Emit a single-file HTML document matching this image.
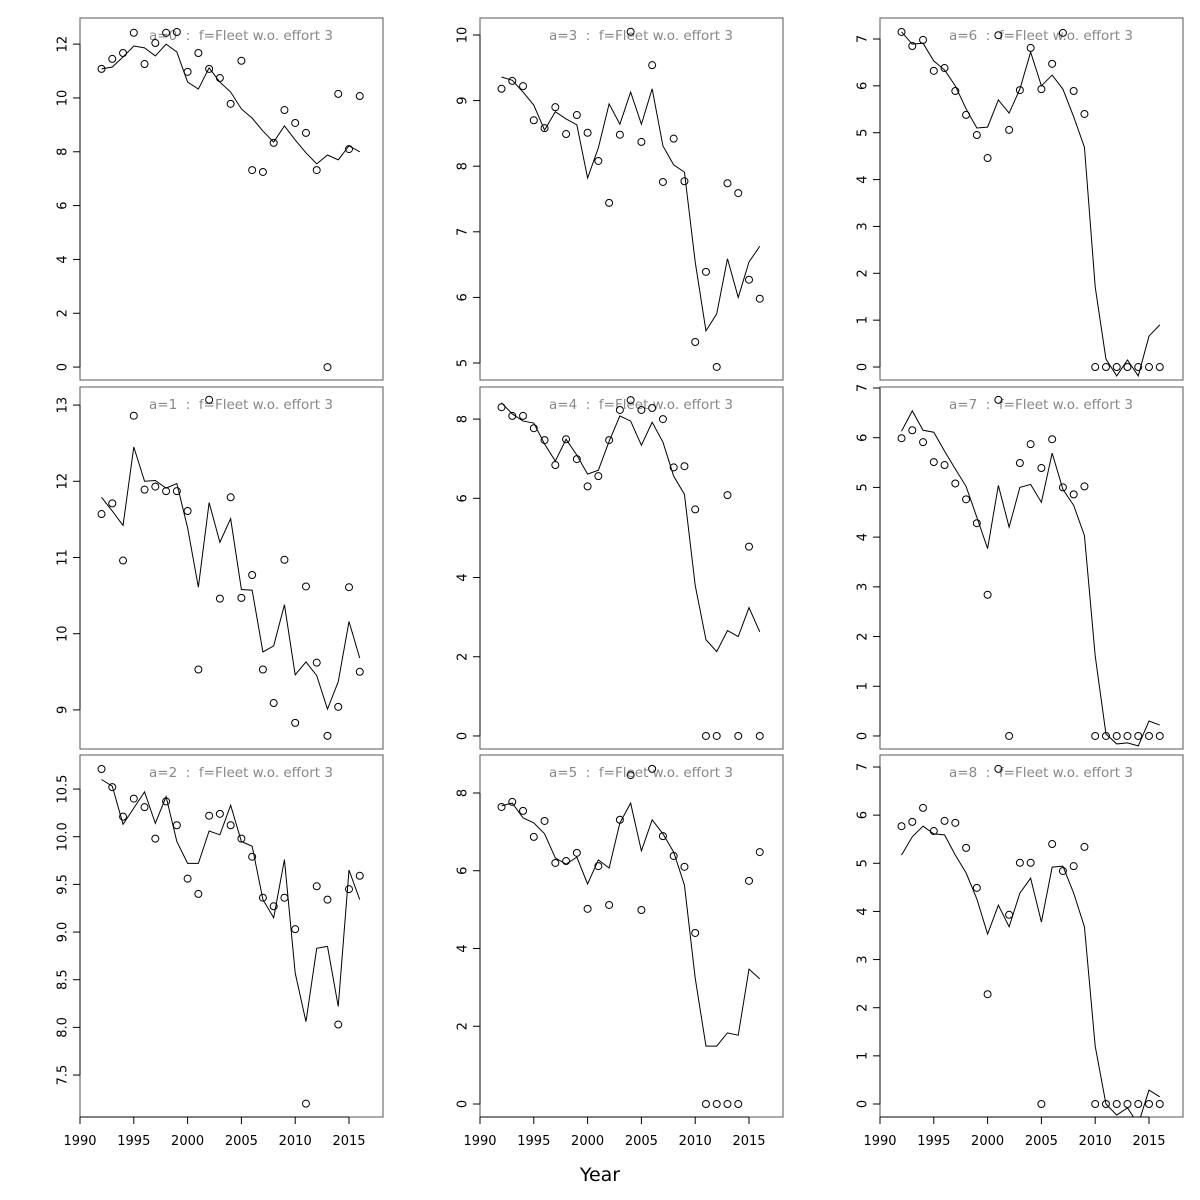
<!DOCTYPE html>
<html><head><meta charset="utf-8"><style>body{margin:0;background:#fff}svg{display:block}text{white-space:pre}</style></head>
<body>
<svg id="chart" width="1200" height="1200" xmlns="http://www.w3.org/2000/svg" font-family="DejaVu Sans, Liberation Sans, sans-serif"></svg>
<script>
const years = [1992,1993,1994,1995,1996,1997,1998,1999,2000,2001,2002,2003,2004,2005,2006,2007,2008,2009,2010,2011,2012,2013,2014,2015,2016];
const xTicks = [1990,1995,2000,2005,2010,2015];
const obsA0 = [11.08,11.45,11.67,12.42,11.26,12.04,12.42,12.45,10.97,11.67,11.08,10.74,9.78,11.38,7.32,7.25,8.33,9.55,9.07,8.7,7.32,0,10.15,8.1,10.07];
const fitA0 = [11.08,11.15,11.52,11.93,11.86,11.56,12.0,11.71,10.59,10.33,11.12,10.59,10.22,9.59,9.25,8.77,8.36,8.96,8.44,7.96,7.55,7.88,7.7,8.22,8.0];
const obsA1 = [11.57,11.71,10.96,12.86,11.89,11.93,11.87,11.87,11.61,9.53,13.07,10.46,11.79,10.47,10.77,9.53,9.09,10.97,8.83,10.62,9.62,8.66,9.04,10.61,9.5];
const fitA1 = [11.79,11.61,11.42,12.45,12.0,12.01,11.91,11.97,11.39,10.61,11.72,11.2,11.51,10.58,10.57,9.76,9.84,10.38,9.46,9.63,9.45,9.01,9.37,10.16,9.68];
const obsA2 = [10.71,10.52,10.21,10.4,10.31,9.98,10.37,10.12,9.56,9.4,10.22,10.24,10.12,9.98,9.79,9.36,9.27,9.36,9.03,7.2,9.48,9.34,8.03,9.45,9.59];
const fitA2 = [10.6,10.53,10.13,10.3,10.47,10.14,10.42,9.95,9.72,9.72,10.06,10.02,10.33,9.95,9.9,9.34,9.15,9.76,8.57,8.06,8.83,8.85,8.22,9.65,9.34];
const obsA3 = [9.18,9.3,9.22,8.7,8.58,8.9,8.49,8.78,8.51,8.08,7.44,8.48,10.05,8.37,9.54,7.76,8.42,7.77,5.32,6.39,4.94,7.74,7.59,6.27,5.98];
const fitA3 = [9.36,9.31,9.13,8.93,8.55,8.83,8.72,8.63,7.82,8.28,8.95,8.64,9.13,8.64,9.18,8.31,8.02,7.91,6.54,5.49,5.75,6.59,6.0,6.54,6.78];
const obsA4 = [8.3,8.08,8.08,7.77,7.47,6.84,7.49,6.99,6.3,6.56,7.47,8.23,8.48,8.23,8.28,8.0,6.78,6.81,5.72,0,0,6.08,0,4.78,0];
const fitA4 = [8.41,8.13,7.95,7.9,7.37,6.94,7.49,7.09,6.61,6.71,7.44,8.08,7.95,7.34,7.92,7.42,6.56,6.1,3.8,2.43,2.13,2.66,2.51,3.24,2.63];
const obsA5 = [7.64,7.77,7.54,6.87,7.28,6.2,6.25,6.46,5.02,6.12,5.12,7.31,8.46,4.99,8.62,6.89,6.38,6.1,4.4,0,0,0,0,5.74,6.48];
const fitA5 = [7.67,7.74,7.36,7.23,6.95,6.33,6.17,6.35,5.66,6.28,6.07,7.23,7.74,6.51,7.31,6.95,6.48,5.63,3.24,1.49,1.49,1.83,1.77,3.47,3.22];
const obsA6 = [7.15,6.85,6.98,6.32,6.38,5.89,5.38,4.95,4.46,7.08,5.06,5.91,6.81,5.93,6.47,7.13,5.89,5.4,0,0,0,0,0,0,0];
const fitA6 = [7.15,6.89,6.91,6.53,6.34,6.0,5.51,5.1,5.12,5.7,5.42,5.93,6.72,6.0,6.23,5.93,5.34,4.69,1.71,0.17,-0.19,0.15,-0.19,0.66,0.9];
const obsA7 = [5.99,6.15,5.91,5.51,5.45,5.08,4.76,4.28,2.84,6.76,0,5.49,5.87,5.39,5.97,5.0,4.86,5.02,0,0,0,0,0,0,0];
const fitA7 = [6.13,6.54,6.15,6.11,5.73,5.37,5.02,4.4,3.77,5.04,4.2,5.0,5.06,4.7,5.69,4.96,4.64,4.03,1.61,0.04,-0.16,-0.14,-0.2,0.3,0.22];
const obsA8 = [5.77,5.86,6.15,5.67,5.88,5.84,5.32,4.49,2.28,6.96,3.93,5.01,5.01,0,5.4,4.84,4.94,5.34,0,0,0,0,0,0,0];
const fitA8 = [5.17,5.55,5.77,5.61,5.59,5.17,4.8,4.26,3.53,4.13,3.68,4.38,4.69,3.78,4.92,4.94,4.38,3.68,1.2,0,-0.23,-0.08,-0.42,0.29,0.15];
const yTicksA0=[0,2,4,6,8,10,12], yTicksA1=[9,10,11,12,13], yTicksA2=[7.5,8,8.5,9,9.5,10,10.5];
const yTicksA3=[5,6,7,8,9,10], yTicksA4=[0,2,4,6,8], yTicksA5=[0,2,4,6,8];
const yTicksA6=[0,1,2,3,4,5,6,7], yTicksA7=[0,1,2,3,4,5,6,7], yTicksA8=[0,1,2,3,4,5,6,7];

const NS="http://www.w3.org/2000/svg";
const svg=document.getElementById('chart');
function mk(tag,attrs,parent){const e=document.createElementNS(NS,tag);for(const k in attrs)e.setAttribute(k,attrs[k]);(parent||svg).appendChild(e);return e;}
const panels=[
 {a:0,obs:obsA0,fit:fitA0,ticks:yTicksA0,ymin:-0.48,ymax:12.97,col:0,row:0,dec:0},
 {a:1,obs:obsA1,fit:fitA1,ticks:yTicksA1,ymin:8.487,ymax:13.237,col:0,row:1,dec:0},
 {a:2,obs:obsA2,fit:fitA2,ticks:yTicksA2,ymin:7.06,ymax:10.857,col:0,row:2,dec:1},
 {a:3,obs:obsA3,fit:fitA3,ticks:yTicksA3,ymin:4.741,ymax:10.259,col:1,row:0,dec:0},
 {a:4,obs:obsA4,fit:fitA4,ticks:yTicksA4,ymin:-0.329,ymax:8.81,col:1,row:1,dec:0},
 {a:5,obs:obsA5,fit:fitA5,ticks:yTicksA5,ymin:-0.334,ymax:8.977,col:1,row:2,dec:0},
 {a:6,obs:obsA6,fit:fitA6,ticks:yTicksA6,ymin:-0.277,ymax:7.448,col:2,row:0,dec:0},
 {a:7,obs:obsA7,fit:fitA7,ticks:yTicksA7,ymin:-0.262,ymax:7.02,col:2,row:1,dec:0},
 {a:8,obs:obsA8,fit:fitA8,ticks:yTicksA8,ymin:-0.27,ymax:7.249,col:2,row:2,dec:0}
];
const colX=[80,480,880], rowY=[18,387,755], W=303, H=362;
panels.forEach(p=>{
  const L=colX[p.col], T=rowY[p.row], B=T+H;
  const sx=v=>L+(v-1990)*(269/25);
  const sy=v=>B-(v-p.ymin)/(p.ymax-p.ymin)*H;
  const g=mk('g',{});
  
  
  const cid='clip'+p.a;
  const cp=mk('clipPath',{id:cid},g); mk('rect',{x:L,y:T,width:W,height:H},cp);
  const fr=mk('rect',{x:L,y:T,width:W,height:H,fill:'none',stroke:'#555','stroke-width':1},g);
  
  
  const t=mk('text',{x:L+161,y:T+22,'font-size':13.5,fill:'#888','text-anchor':'middle','xml:space':'preserve'},g);
  t.textContent='a='+p.a+'  :  f=Fleet w.o. effort 3';
  
  
  p.ticks.forEach(v=>{
    const y=sy(v);
    mk('line',{x1:L-7,x2:L,y1:y,y2:y,stroke:'#000'},g);
    const tl=mk('text',{x:L-17,y:y,'font-size':13,'text-anchor':'middle','dominant-baseline':'middle',transform:'rotate(-90 '+(L-17)+' '+y+')'},g);
    tl.textContent=p.dec?v.toFixed(1):String(v);
    
    
  });
  mk('line',{x1:L,x2:L,y1:sy(p.ticks[0]),y2:sy(p.ticks[p.ticks.length-1]),stroke:'#000'},g);
  if(p.row===2){
    mk('line',{x1:sx(1990),x2:sx(2015),y1:B,y2:B,stroke:'#000'},g);
    xTicks.forEach(v=>{
      mk('line',{x1:sx(v),x2:sx(v),y1:B,y2:B+7,stroke:'#000'},g);
      const xl=mk('text',{x:sx(v),y:B+28,'font-size':13,'text-anchor':'middle'},g);
      xl.textContent=String(v);
      
      
    });
  }
  const dg=mk('g',{'clip-path':'url(#'+cid+')'},g);
  const pl=mk('polyline',{points:years.map((yr,i)=>sx(yr)+','+sy(p.fit[i])).join(' '),fill:'none',stroke:'#000','stroke-width':1},dg);
  
  
  years.forEach((yr,i)=>{
    const c=mk('circle',{cx:sx(yr),cy:sy(p.obs[i]),r:3.5,fill:'none',stroke:'#000','stroke-width':1},dg);
    
    
  });
});
const xt=mk('text',{x:600,y:1181,'font-size':19,'text-anchor':'middle'});
xt.textContent='Year';


</script>
</body></html>
